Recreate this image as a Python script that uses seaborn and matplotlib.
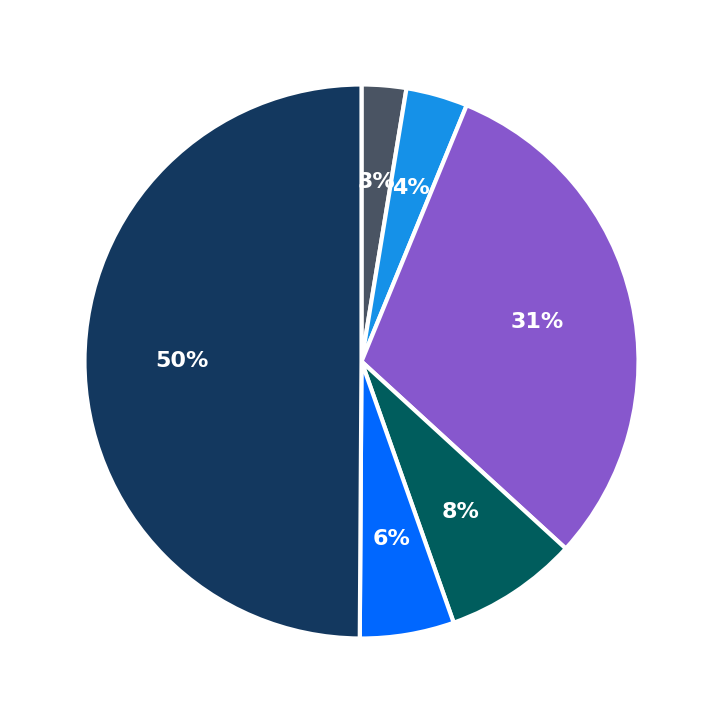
import seaborn as sns
import matplotlib
matplotlib.use("Agg")
import matplotlib.pyplot as plt

# slice data, clockwise from the top
categories = ["A", "B", "C", "D", "E", "F"]
values = [2.6, 3.6, 30.6, 7.8, 5.5, 49.9]
colors = ["#4a5463", "#1591e8", "#8757cd", "#005d5d", "#0067ff", "#13385f"]

sns.set_theme(style="white")
plt.rcParams['font.family'] = ['DejaVu Sans']

fig = plt.figure(figsize=(7.23, 7.23), dpi=100)
ax = fig.add_axes([0, 0, 1, 1])
wedges, texts, autotexts = ax.pie(
    values,
    labels=None,
    colors=sns.color_palette(colors),
    startangle=90,
    counterclock=False,
    autopct="%.0f%%",
    pctdistance=0.65,
    wedgeprops={"edgecolor": "white", "linewidth": 3},
    textprops={"color": "white", "fontsize": 16, "fontweight": "bold"},
)
ax.set_xlim(-1.305, 1.305)
ax.set_ylim(-1.305, 1.305)
ax.set_aspect("equal")
ax.axis("off")
fig.savefig("out.png", dpi=100, facecolor="white")
